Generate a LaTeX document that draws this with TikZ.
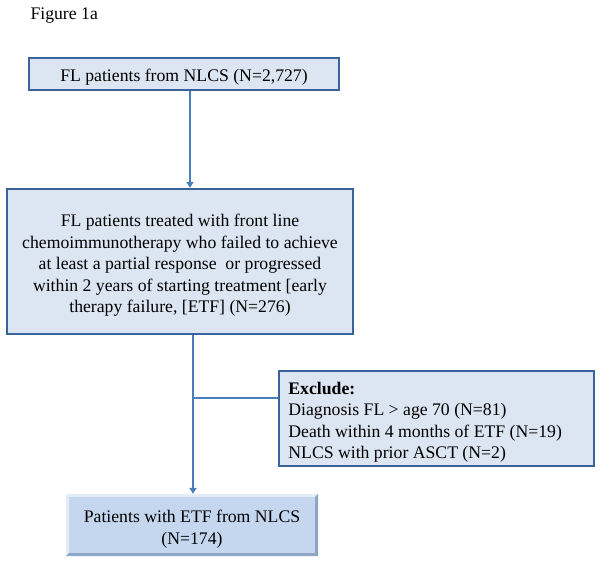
\documentclass[tikz,border=0pt]{standalone}
\usepackage{fontspec}
\setmainfont{Liberation Serif}
\usetikzlibrary{arrows.meta}
\definecolor{bordblue}{HTML}{3A629B}
\definecolor{fillblue}{HTML}{DCE6F2}
\definecolor{linblue}{HTML}{4A7EBB}
\definecolor{bevfill}{HTML}{C4D7EF}
\definecolor{bevlight}{HTML}{E4ECF7}
\definecolor{bevdark}{HTML}{8DA6C4}
\tikzset{
  flowbox/.style={draw=bordblue, line width=2.2pt, fill=fillblue, inner sep=0pt},
  conn/.style={draw=linblue, line width=1.8pt},
  arr/.style={conn, -{Triangle[length=6pt,width=7pt]}},
  txt/.style={font=\fontsize{17.7}{21.5}\selectfont, align=center}
}
\begin{document}
\begin{tikzpicture}[x=1pt,y=-1pt]
\useasboundingbox (0,0) rectangle (602,565);
\node[anchor=west, font=\fontsize{17.7}{21}\selectfont] (fig) at (27,16) {Figure 1a};
% box 1
\node[flowbox, minimum width=310pt, minimum height=32pt] (b1) at (184,74) {};
\node[txt] (t1) at ([yshift=-3.5pt]b1.center) {FL patients from NLCS (N=2,727)};
% box 2
\node[flowbox, minimum width=346pt, minimum height=145pt] (b2) at (180,261.5) {};
\node[txt] (t2) at ([yshift=-4pt]b2.center) {FL patients treated with front line\\chemoimmunotherapy who failed to achieve\\at least a partial response\ \ or progressed\\within 2 years of starting treatment [early\\therapy failure, [ETF] (N=276)};
% exclude box
\node[flowbox, minimum width=315pt, minimum height=95pt] (b3) at (436.5,418.5) {};
\node[txt, align=left, anchor=west] (t3) at ([xshift=7pt,yshift=-3.5pt]b3.west) {\textbf{Exclude:}\\Diagnosis FL > age 70 (N=81)\\Death within 4 months of ETF (N=19)\\NLCS with prior ASCT (N=2)};
% box 4 (bevelled)
\node[fill=bevfill, minimum width=252pt, minimum height=62pt, inner sep=0pt] (b4) at (192,525) {};
\fill[bevlight] (b4.south west) -- (b4.north west) -- (b4.north east) -- ([xshift=-3pt,yshift=-3pt]b4.north east) -- ([xshift=3pt,yshift=-3pt]b4.north west) -- ([xshift=3pt,yshift=3pt]b4.south west) -- cycle;
\fill[bevdark] (b4.south west) -- (b4.south east) -- (b4.north east) -- ([xshift=-3pt,yshift=-3pt]b4.north east) -- ([xshift=-3pt,yshift=3pt]b4.south east) -- ([xshift=3pt,yshift=3pt]b4.south west) -- cycle;
\node[txt] (t4) at ([yshift=-4pt]b4.center) {Patients with ETF from NLCS\\(N=174)};
% connectors
\coordinate (j1) at (193,398);
\draw[arr] (b1.south -| 190,0) -- (b2.north -| 190,0);
\draw[arr] (b2.south -| j1) -- (j1) -- (b4.north -| j1);
\draw[conn] (j1) -- (b3.west |- j1);
\end{tikzpicture}
\end{document}
